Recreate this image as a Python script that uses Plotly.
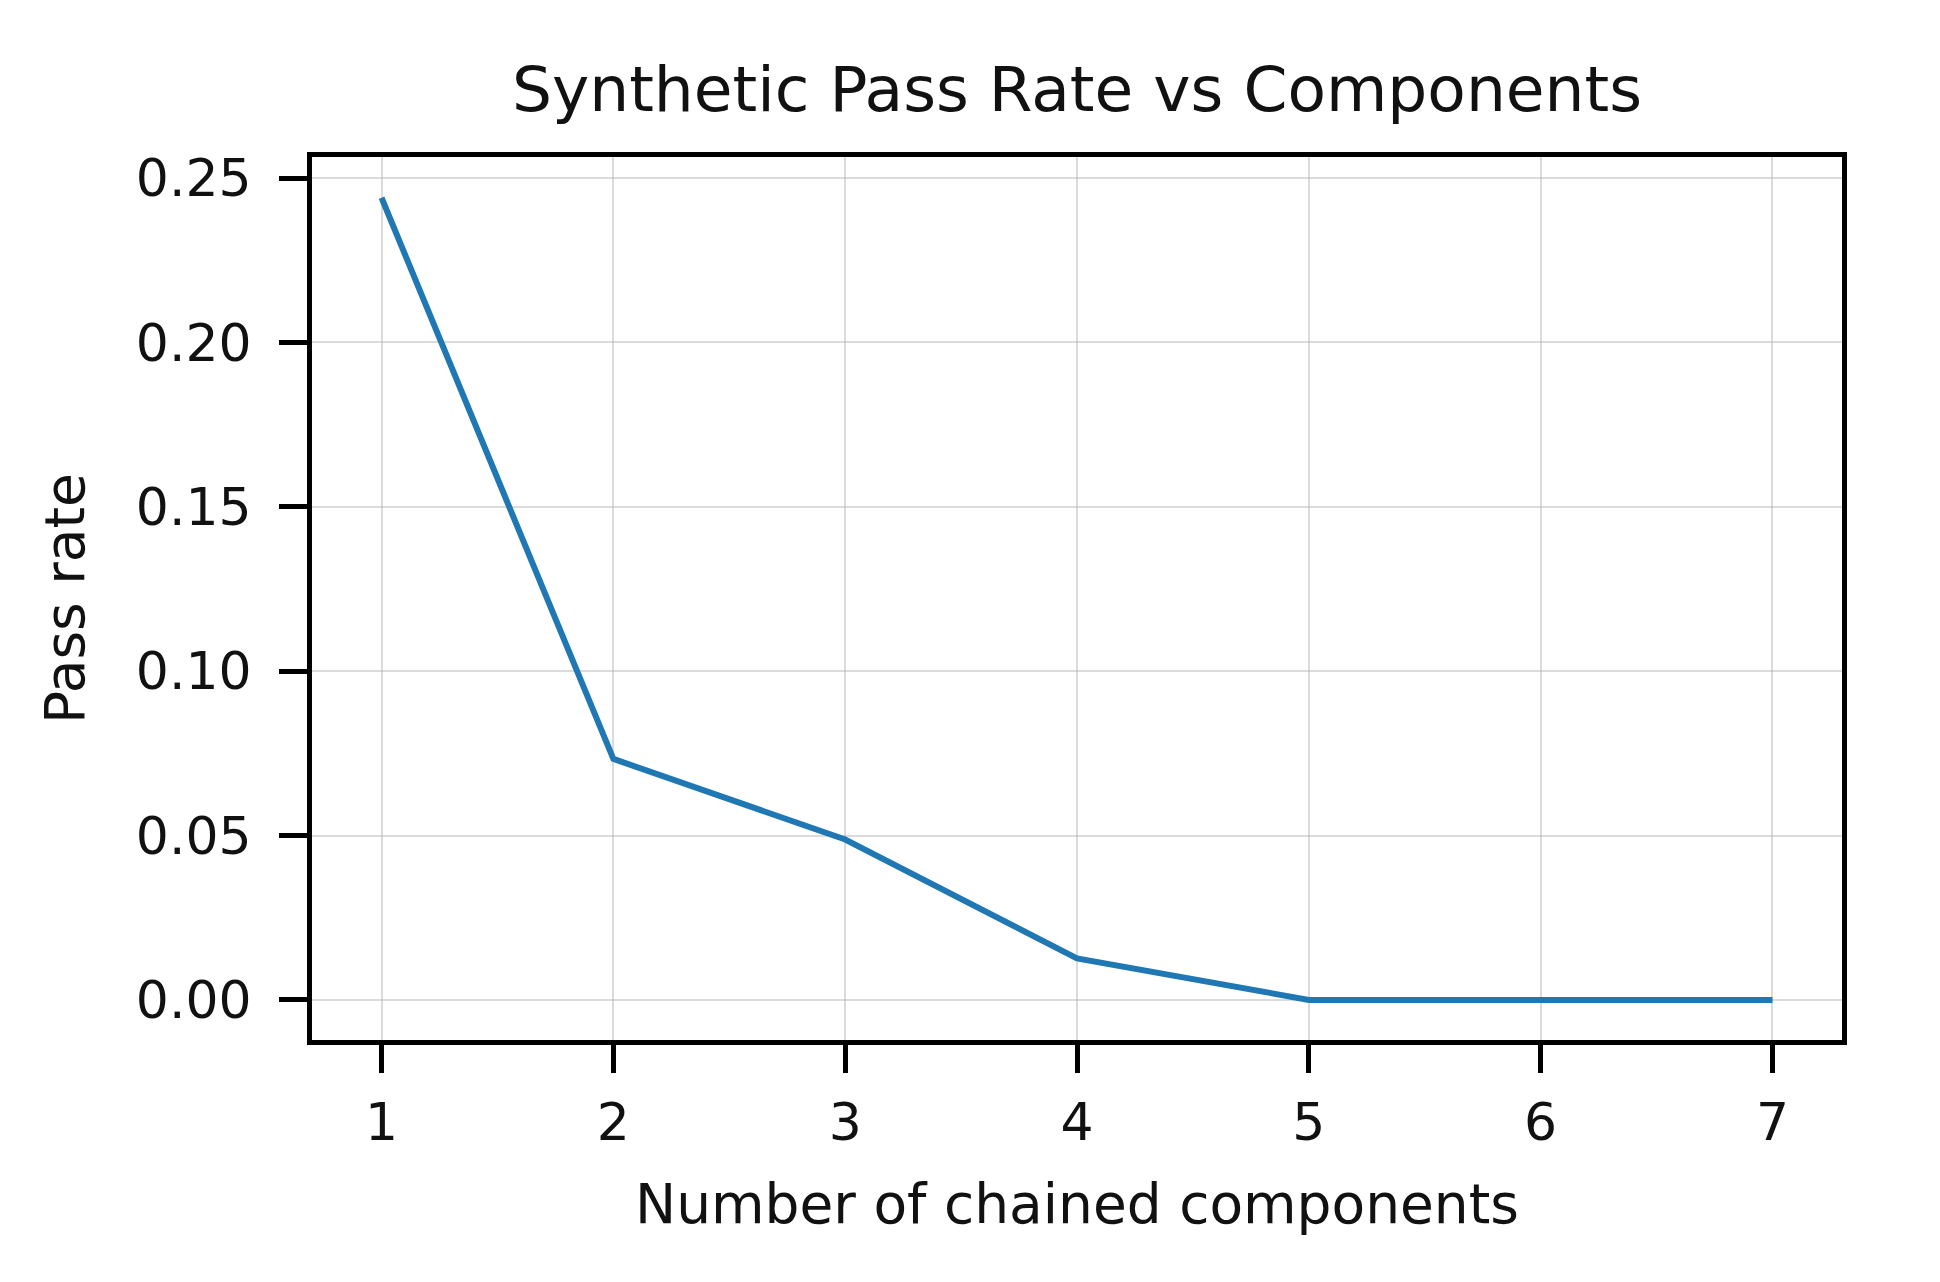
import plotly.graph_objects as go

components = [1, 2, 3, 4, 5, 6, 7]
pass_rate = [0.244, 0.0733, 0.0488, 0.0126, 0.0, 0.0, 0.0]
x_ticks = [1, 2, 3, 4, 5, 6, 7]
y_ticks = [0.0, 0.05, 0.10, 0.15, 0.20, 0.25]
y_tick_text = ["0.00", "0.05", "0.10", "0.15", "0.20", "0.25"]

FONT = "DejaVu Sans"
fig = go.Figure()
fig.add_trace(go.Scatter(x=components, y=pass_rate, mode="lines",
                         line=dict(color="#1f77b4", width=6), showlegend=False))

axis_common = dict(showline=True, mirror=True, linecolor="black", linewidth=5,
                   ticks="outside", ticklen=28, tickwidth=5, tickcolor="black",
                   showgrid=True, gridcolor="rgba(176,176,176,0.45)", gridwidth=2,
                   zeroline=False, automargin=False,
                   tickfont=dict(family=FONT, size=52, color="#111"))

# page body has an 8px margin; the figure is sized/offset to compensate
fig.update_layout(
    width=1924, height=1266,
    margin=dict(l=304, r=90, t=149, b=234),
    paper_bgcolor="white", plot_bgcolor="white",
    title=dict(text="Synthetic Pass Rate vs Components", xref="paper", x=0.5,
               xanchor="center", y=1 - 81 / 1266, yanchor="middle",
               font=dict(family=FONT, size=63, color="#111")),
    xaxis=dict(range=[0.7, 7.3], tickvals=x_ticks, ticktext=[str(v) for v in x_ticks],
               ticklabelstandoff=5,
               title=dict(text="Number of chained components", standoff=35,
                          font=dict(family=FONT, size=55, color="#111")),
               **axis_common),
    yaxis=dict(range=[-0.0122, 0.2564], tickvals=y_ticks, ticktext=y_tick_text,
               ticklabelstandoff=17,
               title=dict(text="Pass rate", standoff=35,
                          font=dict(family=FONT, size=55, color="#111")),
               **axis_common),
)
fig.write_html("out.html")
